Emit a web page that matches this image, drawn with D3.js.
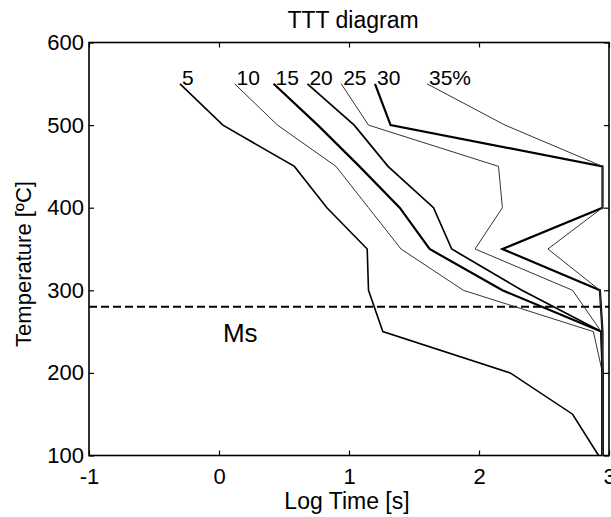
<!DOCTYPE html>
<html>
<head>
<meta charset="utf-8">
<script src="https://cdn.jsdelivr.net/npm/d3@7/dist/d3.min.js"></script>
<style>
  body { margin: 0; background: #fff; }
  svg { display: block; background: #fff; }
  text { font-family: "Liberation Sans", Arial, Helvetica, sans-serif; fill: #000; }
</style>
</head>
<body>
<svg id="chart" width="611" height="517"></svg>
<script>
// Temperature levels (°C) at which each transformation curve is sampled
const temperatures = [550, 500, 450, 400, 350, 300, 250, 200, 150, 100];

// Transformed fraction labels, one per curve
const fractions = ["5", "10", "15", "20", "25", "30", "35%"];

// log10(time [s]) for each fraction at the temperatures above
const logTime5  = [-0.30, 0.03, 0.58, 0.83, 1.14, 1.15, 1.26, 2.24, 2.72, 2.92];
const logTime10 = [ 0.12, 0.45, 0.90, 1.15, 1.40, 1.88, 2.88, 2.95, 2.95, 2.95];
const logTime15 = [ 0.42, 0.76, 1.08, 1.39, 1.62, 2.18, 2.94, 2.95, 2.95, 2.95];
const logTime20 = [ 0.68, 1.04, 1.30, 1.65, 1.79, 2.33, 2.94, 2.95, 2.95, 2.95];
const logTime25 = [ 0.94, 1.15, 2.15, 2.18, 1.97, 2.72, 2.94, 2.95, 2.95, 2.95];
const logTime30 = [ 1.20, 1.32, 2.95, 2.95, 2.18, 2.93, 2.95, 2.95, 2.95, 2.95];
const logTime35 = [ 1.60, 2.20, 2.95, 2.95, 2.53, 2.93, 2.95, 2.95, 2.95, 2.95];

// Martensite start temperature (°C)
const msTemperature = 280;

// Axis ticks
const xTicks = [-1, 0, 1, 2, 3];
const yTicks = [100, 200, 300, 400, 500, 600];

const seriesValues = [logTime5, logTime10, logTime15, logTime20, logTime25, logTime30, logTime35];
const series = fractions.map((label, i) => ({
  label,
  points: temperatures.map((t, j) => ({ t, x: seriesValues[i][j] }))
}));

// Line weights per curve
const strokeStyle = {
  "5":   { w: 1.6, c: "#000" },
  "10":  { w: 1.0, c: "#333" },
  "15":  { w: 2.2, c: "#000" },
  "20":  { w: 1.7, c: "#000" },
  "25":  { w: 1.0, c: "#333" },
  "30":  { w: 2.2, c: "#000" },
  "35%": { w: 1.0, c: "#333" }
};

const svg = d3.select("#chart");
const plotLeft = 89, plotRight = 609, plotTop = 42.5, plotBottom = 455.5;

const x = d3.scaleLinear().domain([-1, 3]).range([plotLeft, plotRight]);
const y = d3.scaleLinear().domain([100, 600]).range([plotBottom, plotTop]);

// Plain integer tick labels with an ASCII hyphen for negatives
const plainFormat = d => String(d);

// Axes with inward ticks on all four sides
const fontSize = "22px";
const axL = svg.append("g").attr("transform", `translate(${plotLeft},0)`)
  .call(d3.axisLeft(y).tickValues(yTicks).tickSize(-5).tickPadding(5).tickFormat(plainFormat));
const axB = svg.append("g").attr("transform", `translate(0,${plotBottom})`)
  .call(d3.axisBottom(x).tickValues(xTicks).tickSize(-5).tickPadding(13).tickFormat(plainFormat));
const axR = svg.append("g").attr("transform", `translate(${plotRight},0)`)
  .call(d3.axisRight(y).tickValues(yTicks).tickSize(-5).tickFormat(""));
const axT = svg.append("g").attr("transform", `translate(0,${plotTop})`)
  .call(d3.axisTop(x).tickValues(xTicks).tickSize(-5).tickFormat(""));

[axL, axB, axR, axT].forEach(g => {
  g.select(".domain").remove();
  g.selectAll(".tick line").attr("stroke", "#000").attr("stroke-width", 1.2);
  g.selectAll("text").attr("font-size", fontSize).attr("fill", "#000")
    .style("font-family", "'Liberation Sans', Arial, Helvetica, sans-serif");
});

// Plot box
svg.append("rect")
  .attr("x", plotLeft).attr("y", plotTop)
  .attr("width", plotRight - plotLeft).attr("height", plotBottom - plotTop)
  .attr("fill", "none").attr("stroke", "#000").attr("stroke-width", 1.6);

// Ms line
svg.append("line")
  .attr("x1", x(-1)).attr("x2", x(3))
  .attr("y1", y(msTemperature)).attr("y2", y(msTemperature))
  .attr("stroke", "#000").attr("stroke-width", 2)
  .attr("stroke-dasharray", "8,4");

svg.append("text")
  .attr("x", x(0.03)).attr("y", y(237))
  .attr("font-size", "26px")
  .text("Ms");

// Transformation curves
const line = d3.line().x(d => x(d.x)).y(d => y(d.t));

svg.append("g").selectAll("path")
  .data(series)
  .join("path")
  .attr("d", d => line(d.points))
  .attr("fill", "none")
  .attr("stroke", d => strokeStyle[d.label].c)
  .attr("stroke-width", d => strokeStyle[d.label].w)
  .attr("stroke-linejoin", "miter");

// Fraction labels at the start of each curve
svg.append("g").selectAll("text")
  .data(series)
  .join("text")
  .attr("x", d => x(d.points[0].x) + 2)
  .attr("y", d => y(d.points[0].t) + 1)
  .attr("font-size", "21px")
  .text(d => d.label);

// Titles
svg.append("text")
  .attr("x", 353).attr("y", 28)
  .attr("text-anchor", "middle")
  .attr("font-size", "23px")
  .text("TTT diagram");

svg.append("text")
  .attr("x", 347).attr("y", 509)
  .attr("text-anchor", "middle")
  .attr("font-size", "23px")
  .text("Log Time [s]");

svg.append("text")
  .attr("transform", "translate(31,264) rotate(-90)")
  .attr("text-anchor", "middle")
  .attr("font-size", "22px")
  .text("Temperature [ºC]");
</script>
</body>
</html>
